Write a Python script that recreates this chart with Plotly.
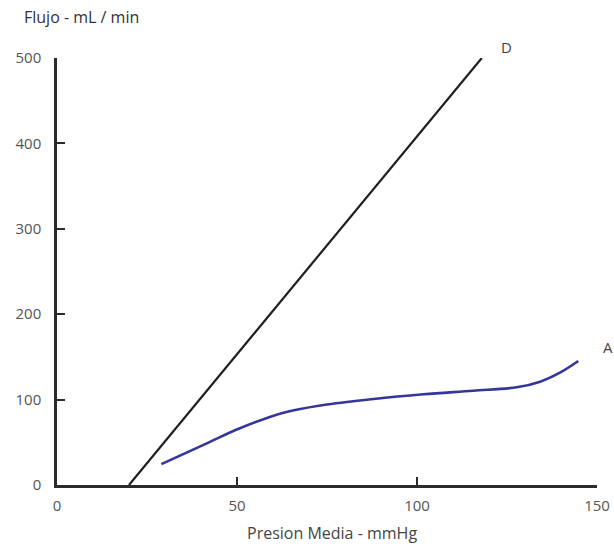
import plotly.graph_objects as go

# Pressure-flow relationship: line D and curve A
presion_d = [20, 118]
flujo_d = [0, 500]

presion_a = [29, 41.6, 50.8, 62.9, 74, 87.9, 101.8, 115.6, 127.7, 134.2, 139.7, 144.8]
flujo_a = [24.5, 48.8, 66.4, 84.7, 93.7, 100.7, 106.2, 110.4, 114.4, 121, 131.5, 145.2]

x_ticks = [0, 50, 100, 150]
y_ticks = [0, 100, 200, 300, 400, 500]

FONT = "Open Sans"
AXIS_COLOR = "#2b2b2b"

fig = go.Figure()
fig.add_trace(go.Scatter(
    x=presion_d, y=flujo_d, mode="lines",
    line=dict(color="#1f1f1f", width=2.2),
    cliponaxis=False, showlegend=False, hoverinfo="skip",
))
fig.add_trace(go.Scatter(
    x=presion_a, y=flujo_a, mode="lines",
    line=dict(color="#35359a", width=2.6, shape="spline", smoothing=1.0),
    cliponaxis=False, showlegend=False, hoverinfo="skip",
))

# Curve labels sit outside the axis ranges, so place them in paper space
fig.add_annotation(xref="paper", yref="paper", x=0.833, y=1.026, text="D",
                   xanchor="center", yanchor="middle", showarrow=False,
                   font=dict(family=FONT, size=15, color="#444"))
fig.add_annotation(xref="paper", yref="paper", x=1.021, y=0.324, text="A",
                   xanchor="center", yanchor="middle", showarrow=False,
                   font=dict(family=FONT, size=15, color="#444"))
fig.add_annotation(xref="paper", yref="paper", x=-0.064, y=1.096,
                   xanchor="left", yanchor="middle", text="Flujo - mL / min",
                   showarrow=False, font=dict(family=FONT, size=16, color="#333"))
fig.add_annotation(xref="paper", yref="paper", x=0.51, y=-0.113,
                   xanchor="center", yanchor="middle", text="Presion Media - mmHg",
                   showarrow=False, font=dict(family=FONT, size=16, color="#444"))

fig.update_xaxes(
    range=[0, 150], tickvals=x_ticks, showgrid=False, zeroline=False,
    showline=True, linecolor=AXIS_COLOR, linewidth=2.5,
    ticks="inside", ticklen=8, tickwidth=2, tickcolor=AXIS_COLOR,
    tickfont=dict(family=FONT, size=15, color="#555"),
    ticklabelstandoff=5,
)
fig.update_yaxes(
    range=[0, 500], tickvals=y_ticks, showgrid=False, zeroline=False,
    showline=True, linecolor=AXIS_COLOR, linewidth=2.5,
    ticks="inside", ticklen=8, tickwidth=2, tickcolor=AXIS_COLOR,
    tickfont=dict(family=FONT, size=15, color="#555"),
    ticklabelstandoff=10,
)

fig.update_layout(
    width=614, height=549,
    margin=dict(l=57, r=17, t=58, b=64, autoexpand=False),
    paper_bgcolor="white", plot_bgcolor="white",
)

fig.write_html("out.html")
